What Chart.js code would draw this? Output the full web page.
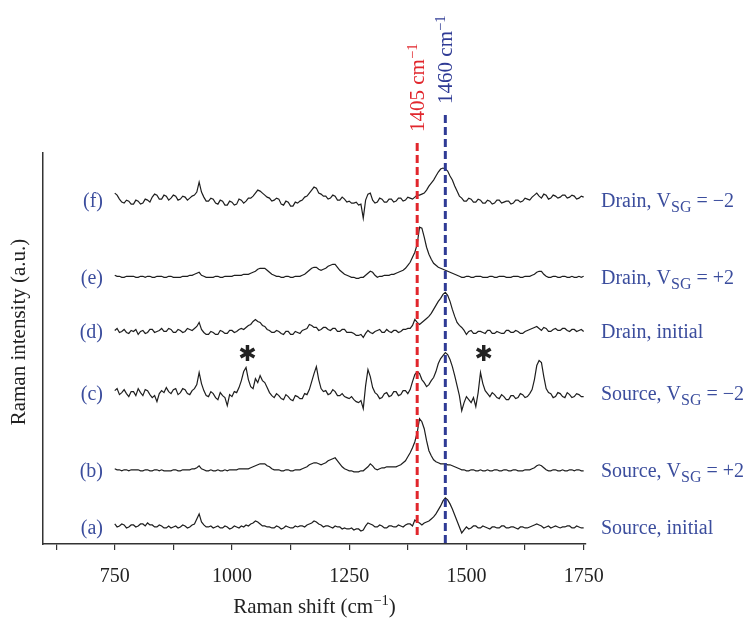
<!DOCTYPE html>
<html>
<head>
<meta charset="utf-8">
<script src="https://cdn.jsdelivr.net/npm/chart.js@4.4.0/dist/chart.umd.min.js"></script>
<style>
  html, body { margin: 0; padding: 0; background: #fff; }
</style>
</head>
<body>
<canvas id="raman" width="750" height="621"></canvas>
<script>
// Raman shift grid (cm-1)
const shifts = [
  750, 755, 760, 765, 770, 775, 780, 785, 790, 795,
  800, 805, 810, 815, 820, 825, 830, 835, 840, 845,
  850, 855, 860, 865, 870, 875, 880, 885, 890, 895,
  900, 905, 910, 915, 920, 925, 930, 935, 940, 945,
  950, 955, 960, 965, 970, 975, 980, 985, 990, 995,
  1000, 1005, 1010, 1015, 1020, 1025, 1030, 1035, 1040, 1045,
  1050, 1055, 1060, 1065, 1070, 1075, 1080, 1085, 1090, 1095,
  1100, 1105, 1110, 1115, 1120, 1125, 1130, 1135, 1140, 1145,
  1150, 1155, 1160, 1165, 1170, 1175, 1180, 1185, 1190, 1195,
  1200, 1205, 1210, 1215, 1220, 1225, 1230, 1235, 1240, 1245,
  1250, 1255, 1260, 1265, 1270, 1275, 1280, 1285, 1290, 1295,
  1300, 1305, 1310, 1315, 1320, 1325, 1330, 1335, 1340, 1345,
  1350, 1355, 1360, 1365, 1370, 1375, 1380, 1385, 1390, 1395,
  1400, 1405, 1410, 1415, 1420, 1425, 1430, 1435, 1440, 1445,
  1450, 1455, 1460, 1465, 1470, 1475, 1480, 1485, 1490, 1495,
  1500, 1505, 1510, 1515, 1520, 1525, 1530, 1535, 1540, 1545,
  1550, 1555, 1560, 1565, 1570, 1575, 1580, 1585, 1590, 1595,
  1600, 1605, 1610, 1615, 1620, 1625, 1630, 1635, 1640, 1645,
  1650, 1655, 1660, 1665, 1670, 1675, 1680, 1685, 1690, 1695,
  1700, 1705, 1710, 1715, 1720, 1725, 1730, 1735, 1740, 1745,
  1750
];

// intensities above each trace's own baseline (a.u.)
const sourceInitial = [
  3, 0, 1, 3, 2, -1, 0, 2, 2, 0,
  1, 3, 3, 1, 4, 2, 2, 0, 0, 2,
  1, -1, -1, 1, -1, 0, 1, -1, 0, 2,
  1, -1, 0, 2, 3, 8, 13, 5, 2, 0,
  0, 1, -1, 0, 1, -1, -1, 1, 0, -2,
  -1, 1, 0, -1, 1, 0, 2, 1, 3, 4,
  6, 5, 3, 1, 1, 0, 0, -1, -1, 1,
  0, -2, -1, 1, 0, -1, -1, 1, 0, 1,
  1, 0, 2, 3, 4, 6, 5, 3, 2, 0,
  1, 1, 0, -1, 1, 0, 0, -2, -1, -2,
  -2, -1, -3, -2, -2, -4, -3, 1, 4, 3,
  2, 0, 0, 2, 1, -1, -1, 1, 1, 0,
  0, 2, 1, 0, 2, 3, 3, 1, 7, 5,
  4, 2, 4, 5, 6, 8, 10, 13, 17, 21,
  26, 29, 27, 23, 18, 12, 6, 0, -6, -3,
  0, -2, -1, 1, 1, -1, -1, 1, 0, -1,
  -2, 0, 0, -1, -1, 1, 1, -1, -1, 0,
  0, -1, -2, 0, 0, -1, -1, 0, 1, 2,
  3, 2, 1, -1, 0, 1, -1, 0, 1, 0,
  -1, 0, 0, 1, 1, -1, -1, 1, 0, -1,
  -1
];
const sourcePlus2 = [
  2, 1, 1, 0, 1, 1, 0, 1, 1, 1,
  1, 0, 0, 1, 1, 0, 0, 1, 1, 0,
  1, 0, 0, 0, 0, 1, 1, 0, 0, 1,
  1, 1, 1, 2, 2, 3, 5, 2, 1, 0,
  0, 1, 0, 0, 1, 0, 0, 1, 0, 1,
  1, 1, 1, 2, 2, 2, 2, 2, 3, 4,
  5, 6, 7, 7, 7, 5, 4, 2, 1, 1,
  1, 0, 0, 1, 1, 0, 0, 1, 1, 1,
  2, 3, 4, 6, 7, 8, 8, 7, 6, 7,
  8, 10, 11, 12, 13, 10, 7, 4, 2, 1,
  0, 0, -1, -1, -1, 0, 0, 2, 4, 7,
  5, 2, 1, 2, 3, 3, 4, 4, 4, 4,
  4, 5, 6, 8, 10, 14, 18, 23, 29, 38,
  52, 49, 42, 30, 20, 15, 11, 9, 8, 7,
  7, 7, 6, 6, 5, 4, 3, 2, 1, 1,
  0, 0, 1, 1, 0, 0, 1, 0, 0, 1,
  0, 0, 1, 1, 0, 0, 1, 1, 0, 0,
  1, 1, 0, 0, 0, 1, 1, 1, 2, 3,
  5, 6, 5, 3, 1, 0, 0, 1, 1, 0,
  0, 1, 0, 0, 1, 1, 0, 1, 1, 0,
  0
];
const sourceMinus2 = [
  3, 5, -1, 1, 4, 0, -3, 2, 2, -2,
  5, 1, -2, 4, 3, -1, -4, -2, -8, 0,
  3, 1, 6, 2, 0, 4, 5, -1, 1, 5,
  4, 0, -1, 3, 5, 9, 21, 10, 3, -2,
  -3, 2, 0, -4, -6, 1, -2, -4, -12, -1,
  -3, 2, 1, 6, 13, 22, 26, 14, 7, 5,
  15, 11, 18, 13, 11, 6, 1, -2, -4, 0,
  -2, -5, -6, -1, -3, -6, -7, -2, -3, -5,
  -5, 0, -1, 4, 12, 20, 27, 14, 5, 2,
  3, -1, 0, 4, 2, -2, -2, 0, -3, -4,
  -5, -3, -6, -8, -9, -7, -15, 8, 24, 17,
  6, 1, -1, -5, -4, 0, 1, -3, -2, 2,
  2, -2, -1, 3, 3, 0, 4, 12, 19, 22,
  20, 14, 11, 7, 9, 13, 16, 22, 30, 35,
  38, 41, 39, 34, 27, 18, 8, -2, -17, -9,
  -3, -6, -9, -4, -13, 1, 21, 10, 3, 0,
  -3, 1, -1, -4, -5, -1, -3, -6, -6, -2,
  -2, -5, -4, 0, -1, -4, -3, 0, 4, 14,
  28, 33, 31, 17, 5, 1, 0, -4, -3, 1,
  0, -3, -4, 1, -1, -4, -3, 0, -1, -3,
  -3
];
const drainInitial = [
  1, 3, -1, 0, 2, -1, -2, 1, 0, 2,
  -3, 0, 1, -2, -1, 2, 2, -1, 0, 1,
  3, 0, 0, 3, 2, -1, -1, 2, 1, -1,
  0, 3, 2, 1, 3, 5, 9, 2, -1, -3,
  -3, 0, -1, -3, -3, 1, 0, -2, -2, 1,
  1, -1, 0, 2, 3, 2, 4, 6, 7, 10,
  12, 10, 9, 6, 5, 2, 1, -1, -1, 1,
  0, -2, -3, 0, 0, -3, -3, 0, -1, -2,
  1, 2, 3, 7, 6, 4, 4, 1, 2, 4,
  4, 2, 1, 3, 3, 0, 0, 2, 2, -1,
  -1, -1, -2, -4, -4, -3, -6, -2, 1, -1,
  -2, 0, 1, 2, -1, -1, 2, 0, -1, 1,
  1, -1, 0, 2, 2, 3, 3, 6, 12, 9,
  7, 9, 11, 13, 15, 18, 22, 26, 30, 33,
  37, 39, 36, 30, 22, 15, 9, 6, 4, 1,
  -3, 0, 1, -2, -2, 0, 0, -1, -2, 1,
  1, -2, -2, 0, -1, -2, -2, 1, 1, -1,
  -1, 1, 0, -2, -2, 0, 1, 2, 3, 4,
  5, 3, 1, 4, 3, 0, 0, 2, 3, 1,
  1, 3, 3, 1, 0, 2, 2, 0, 1, 2,
  0
];
const drainPlus2 = [
  2, 1, 1, 0, 0, 1, 1, 1, 1, 0,
  0, 1, 1, 0, 1, 1, 0, 0, 1, 1,
  1, 0, 0, 1, 1, 0, 0, 0, 0, 1,
  1, 1, 2, 2, 3, 4, 5, 2, 1, 0,
  0, 0, 0, 1, 1, 0, 0, 1, 1, 1,
  1, 2, 2, 2, 2, 3, 3, 3, 4, 5,
  6, 8, 9, 9, 9, 7, 5, 3, 2, 1,
  1, 0, 0, 1, 1, 0, 0, 1, 1, 1,
  2, 3, 5, 7, 9, 10, 10, 8, 7, 8,
  9, 11, 12, 13, 13, 10, 7, 5, 3, 2,
  1, 0, 0, -1, -1, 0, 0, 2, 4, 6,
  5, 2, 0, 1, 1, 2, 2, 2, 3, 3,
  4, 5, 6, 7, 9, 12, 15, 20, 25, 33,
  50, 49, 40, 30, 23, 18, 14, 12, 10, 9,
  8, 7, 6, 5, 4, 3, 2, 1, 0, 0,
  1, 1, 0, 0, 1, 1, 1, 0, 0, 0,
  1, 1, 0, 0, 1, 1, 1, 0, 0, 0,
  1, 1, 1, 0, 0, 1, 1, 1, 2, 3,
  5, 6, 6, 3, 1, 0, 0, 1, 1, 0,
  0, 1, 1, 0, 0, 1, 0, 0, 1, 0,
  1
];
const drainMinus2 = [
  7, 5, 1, -2, -3, 0, -1, -4, -4, 0,
  -1, -4, -3, 1, 0, -2, 3, 6, 5, 1,
  1, 5, 4, 0, 2, 5, 4, 0, 1, 4,
  3, 0, 2, 4, 5, 8, 18, 8, 3, -1,
  -1, 2, 1, -3, -4, 0, -1, -5, -5, -1,
  -2, -5, -4, 1, 0, -3, -1, 2, 2, 4,
  7, 10, 9, 7, 5, 3, 2, -1, 0, 2,
  1, -4, -5, -1, -2, -6, -6, -2, -3, -1,
  0, 3, 4, 7, 10, 13, 12, 7, 6, 4,
  4, 1, 2, 5, 4, 0, 0, 3, 1, -2,
  -1, -3, -3, -2, -5, -4, -18, 0, 6, 7,
  0, -3, -2, 2, 1, -2, -2, 1, 1, -2,
  -1, 2, 2, -1, 0, 3, 2, 1, 3, 5,
  5, 6, 7, 10, 14, 17, 20, 24, 28, 31,
  32, 31, 29, 24, 20, 14, 9, 4, 2, -1,
  -1, 2, 1, -2, -2, 1, 0, -3, -3, 0,
  -1, -4, -3, 0, 0, -3, -2, -1, -1, -4,
  -3, 0, 0, -2, -1, 2, 1, 0, 3, 5,
  7, 4, 2, 6, 5, 1, 2, 5, 4, 2,
  3, 5, 5, 2, 3, 5, 4, 1, 2, 4,
  3
];

// bottom to top: (a) ... (f)
const traces = [sourceInitial, sourcePlus2, sourceMinus2, drainInitial, drainPlus2, drainMinus2];
const offsets = [17, 73, 150, 212, 266, 343];
const letters = ['(a)', '(b)', '(c)', '(d)', '(e)', '(f)'];
const conditions = [
  'Source, initial',
  'Source, V_{SG} = +2',
  'Source, V_{SG} = \u22122',
  'Drain, initial',
  'Drain, V_{SG} = +2',
  'Drain, V_{SG} = \u22122'
];

// dashed reference lines
const markerShifts = [1395, 1455];
const markerLabels = ['1405 cm^{\u22121}', '1460 cm^{\u22121}'];
const markerTops = [400, 428];
const markerBottoms = [6, 0];
const markerColors = ['#e1262c', '#2f3b95'];

// asterisks over trace (c)
const starShifts = [1033, 1537];
const starLevel = 38;

const xTicks = [625, 750, 875, 1000, 1125, 1250, 1375, 1500, 1625, 1750];

const SERIF = '"Liberation Serif", "DejaVu Serif", serif';
const BLUE = '#3b4d9d';

function parseRich(str, size) {
  const parts = [];
  const re = /([_^])\{([^}]*)\}/g;
  let last = 0, m;
  while ((m = re.exec(str))) {
    if (m.index > last) parts.push({ t: str.slice(last, m.index), size: size, dy: 0 });
    if (m[1] === '_') parts.push({ t: m[2], size: size * 0.8, dy: size * 0.24 });
    else parts.push({ t: m[2], size: size * 0.7, dy: -size * 0.36 });
    last = re.lastIndex;
  }
  if (last < str.length) parts.push({ t: str.slice(last), size: size, dy: 0 });
  return parts;
}

// y is the visual middle of the capitals
function drawRich(ctx, str, size, x, y, align, color) {
  const parts = parseRich(str, size);
  let total = 0;
  parts.forEach(p => {
    ctx.font = p.size + 'px ' + SERIF;
    p.w = ctx.measureText(p.t).width;
    total += p.w;
  });
  let cx = align === 'right' ? x - total : align === 'center' ? x - total / 2 : x;
  const base = y + size * 0.33;
  ctx.fillStyle = color;
  ctx.textBaseline = 'alphabetic';
  ctx.textAlign = 'left';
  parts.forEach(p => {
    ctx.font = p.size + 'px ' + SERIF;
    ctx.fillText(p.t, cx, base + p.dy);
    cx += p.w;
  });
}

const annotations = {
  id: 'annotations',
  afterDatasetsDraw(chart) {
    const { ctx, chartArea, scales: { x, y } } = chart;
    ctx.save();

    // dashed lines and their rotated labels
    markerShifts.forEach((s, k) => {
      const px = x.getPixelForValue(s);
      const top = y.getPixelForValue(markerTops[k]);
      ctx.strokeStyle = markerColors[k];
      ctx.lineWidth = 3;
      ctx.setLineDash([8, 4]);
      ctx.beginPath();
      ctx.moveTo(px, top);
      ctx.lineTo(px, y.getPixelForValue(markerBottoms[k]));
      ctx.stroke();
      ctx.setLineDash([]);

      ctx.save();
      ctx.translate(px, top - 11);
      ctx.rotate(-Math.PI / 2);
      drawRich(ctx, markerLabels[k], 21, 0, 0, 'left', markerColors[k]);
      ctx.restore();
    });

    // trace labels
    offsets.forEach((off, k) => {
      const py = y.getPixelForValue(off);
      drawRich(ctx, letters[k], 20, x.getPixelForValue(725), py, 'right', BLUE);
      drawRich(ctx, conditions[k], 20, chartArea.right + 15, py, 'left', BLUE);
    });

    // asterisks
    ctx.fillStyle = '#222';
    ctx.font = 'bold 22px "DejaVu Sans", sans-serif';
    ctx.textAlign = 'center';
    ctx.textBaseline = 'middle';
    starShifts.forEach(s => {
      ctx.fillText('\u2731', x.getPixelForValue(s), y.getPixelForValue(offsets[2] + starLevel));
    });

    // axis titles
    drawRich(ctx, 'Raman shift (cm^{\u22121})', 21, (chartArea.left + chartArea.right) / 2, 606, 'center', '#222');
    ctx.save();
    ctx.translate(18, 332);
    ctx.rotate(-Math.PI / 2);
    drawRich(ctx, 'Raman intensity (a.u.)', 21, 0, 0, 'center', '#222');
    ctx.restore();

    ctx.restore();
  }
};

new Chart(document.getElementById('raman'), {
  type: 'line',
  data: {
    datasets: traces.map((vals, k) => ({
      data: vals.map((v, i) => ({ x: shifts[i], y: v + offsets[k] })),
      borderColor: '#1e1e1e',
      borderWidth: 1.2,
      pointRadius: 0,
      tension: 0,
      fill: false
    }))
  },
  options: {
    responsive: false,
    animation: false,
    layout: { padding: { left: 43, right: 164, top: 153, bottom: 17 } },
    plugins: { legend: { display: false }, tooltip: { enabled: false } },
    scales: {
      x: {
        type: 'linear',
        min: 597,
        max: 1755,
        afterBuildTicks: s => { s.ticks = xTicks.map(v => ({ value: v })); },
        ticks: {
          autoSkip: false,
          maxRotation: 0,
          padding: 15,
          color: '#222',
          font: { family: SERIF, size: 20 },
          callback: v => (v % 250 === 0 ? String(v) : '')
        },
        grid: { drawOnChartArea: false, tickLength: 6, color: '#333', lineWidth: 1.2 },
        border: { color: '#333', width: 1.5 }
      },
      y: {
        min: 0,
        max: 390,
        ticks: { display: false },
        grid: { drawOnChartArea: false, drawTicks: false },
        border: { color: '#333', width: 1.5 }
      }
    }
  },
  plugins: [annotations]
});
</script>
</body>
</html>
